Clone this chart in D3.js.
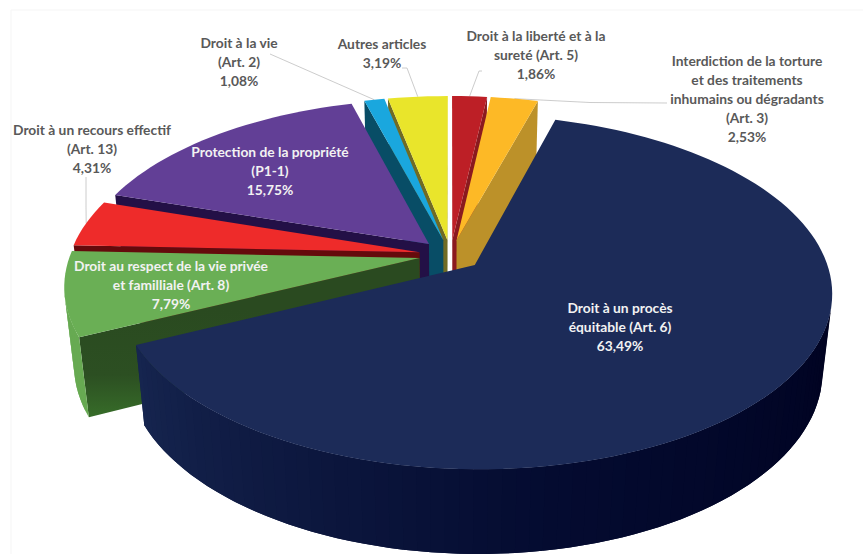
<!DOCTYPE html>
<html lang="fr">
<head>
<meta charset="utf-8">
<script src="https://cdnjs.cloudflare.com/ajax/libs/d3/7.8.5/d3.min.js"></script>
<style>
  html, body { margin: 0; padding: 0; background: #fff; }
  svg { display: block; }
  text { font-family: Lato, "Open Sans", sans-serif; font-weight: 700; font-size: 13.8px; text-anchor: middle; }
</style>
</head>
<body>
<svg id="chart" width="863" height="554"></svg>
<script>
// Articles, clockwise from twelve o'clock
const articleLines = [
  ["Droit à la liberté et à la", "sureté (Art. 5)"],
  ["Interdiction de la torture", "et des traitements", "inhumains ou dégradants", "(Art. 3)"],
  ["Droit à un procès", "équitable (Art. 6)"],
  ["Droit au respect de la vie privée", "et familliale (Art. 8)"],
  ["Droit à un recours effectif", "(Art. 13)"],
  ["Protection de la propriété", "(P1-1)"],
  ["Droit à la vie", "(Art. 2)"],
  ["Autres articles"]
];
const shares = [1.86, 2.53, 63.49, 7.79, 4.31, 15.75, 1.08, 3.19];

const topColors  = ["#bd1f26", "#fdb926", "#1c2b58", "#6aaf55", "#ee2b2a", "#623f96", "#1aa7de", "#e9e52b"];
const sideColors = ["#8b1a1f", "#bc9129", "#15244f", "url(#greenWall)", "#650a0c", "#231046", "#084d66", "#706b24"];
const rimColors  = ["#8b1a1f", "#bc9129", null, "#67aa52", "#650a0c", "#231046", "#084d66", "#706b24"];

// Layout of the labels: centre x and centre y of the first line, text colour
const labelPos = [
  [536, 36, "#595959"], [747, 61, "#595959"], [620, 308, "#f2f2f2"], [171, 266, "#f2f2f2"],
  [92, 130, "#595959"], [270, 152, "#f2f2f2"], [239, 43, "#595959"], [382, 44, "#595959"]
];
// Leader lines: fixed vertices on the label side, the slice rim supplies the last vertex
const leaderStart = [
  [[482, 71], [479, 71]], [[667, 103], [590, 102.5]], null, null,
  [[86, 177], [86, 206]], null, [[270, 54]], [[402, 68], [407, 68]]
];

const svg = d3.select("#chart");
const W = 863, H = 554;

// The green radial wall brightens towards its outer bottom corner
const wallGrad = svg.append("defs").append("linearGradient").attr("id", "greenWall")
  .attr("gradientUnits", "userSpaceOnUse").attr("x1", 0).attr("y1", 310).attr("x2", 0).attr("y2", 418);
wallGrad.selectAll("stop").data([[0, "#2a4a20"], [0.6, "#2c4f22"], [1, "#376d29"]]).join("stop")
  .attr("offset", d => d[0]).attr("stop-color", d => d[1]);

// Faint frame open on its right side
svg.append("path").attr("d", d3.line()([[W, 10], [11, 10], [11, H]]))
  .attr("fill", "none").attr("stroke", "#f5f5f5");

// Camera model of the tilted disc (unit radius)
const cam = { cx: 450.5, cy: 255, sx: 349.5, sy: 170, persp: 0.152, depth: 78.5, recede: 0.025 };
const explode = 0.09;

function project(X, Y, lowered) {
  const w = 1 + cam.persp * Y + (lowered ? cam.recede : 0);
  return [
    cam.cx + cam.sx * X / w,
    cam.cy + (-cam.sy * Y + (lowered ? cam.depth : 0)) / w
  ];
}

const pie = d3.pie().sort(null).value(d => d).startAngle(0).endAngle(2 * Math.PI);
const arcs = pie(shares).map((a, i) => {
  const mid = (a.startAngle + a.endAngle) / 2;
  return { ...a, i, mid, ox: explode * Math.sin(mid), oy: explode * Math.cos(mid) };
});

const rimAt = (a, t) => [a.ox + Math.sin(t), a.oy + Math.cos(t)];

// Outline of a slice: apex, then the rim sampled every 2 degrees
function ring(a) {
  const n = Math.max(2, Math.ceil((a.endAngle - a.startAngle) / (2 * Math.PI / 180)));
  const t = d3.scaleLinear().domain([0, n]).range([a.startAngle, a.endAngle]);
  return [[a.ox, a.oy, null]].concat(d3.range(n + 1).map(k => {
    const p = rimAt(a, t(k));
    return [p[0], p[1], t(k)];
  }));
}

const navyRim = d3.scaleLinear().domain([100, 170, 244]).range(["#000220", "#040b30", "#16254f"]).clamp(true);
const line = d3.line();
const DEG = 180 / Math.PI;

// Leaders sit under the slices, so they stop at the visible rim
const leaders = svg.append("g").attr("fill", "none").attr("stroke", "#bfbfbf").attr("stroke-width", 0.8);
arcs.forEach(a => {
  if (!leaderStart[a.i]) return;
  const end = project(...rimAt(a, a.mid));
  leaders.append("path").attr("d", line(leaderStart[a.i].concat([end])));
});

// Far slices first so the nearer ones overlap them
const ordered = arcs.slice().sort((p, q) => d3.descending(Math.cos(p.mid), Math.cos(q.mid)));
const slices = svg.selectAll("g.slice").data(ordered).join("g").attr("class", "slice");

slices.each(function (a) {
  const g = d3.select(this);
  const pts = ring(a);
  const closed = pts.concat([pts[0]]);
  for (let k = 0; k < closed.length - 1; k++) {
    const p = closed[k], q = closed[k + 1];
    const quad = [project(p[0], p[1]), project(q[0], q[1]), project(q[0], q[1], true), project(p[0], p[1], true)];
    if (d3.polygonArea(quad) <= 0) continue;   // wall turned away from the viewer
    const isRim = p[2] !== null && q[2] !== null;
    const fill = isRim
      ? (rimColors[a.i] || navyRim((p[2] + q[2]) / 2 * DEG))
      : sideColors[a.i];
    // Each rim strip runs on under the next one, which closes the seams between strips
    const r = closed[k + 2];
    const body = isRim && r && r[2] !== null
      ? [quad[0], quad[1], project(r[0], r[1]), project(r[0], r[1], true), quad[2], quad[3]]
      : quad;
    g.append("path").attr("d", line(body) + "Z").attr("fill", fill);
  }
  g.append("path")
    .attr("d", line(pts.map(p => project(p[0], p[1]))) + "Z")
    .attr("fill", topColors[a.i]);
});

// Labels: article name lines, then the share with a decimal comma
const fmt = v => v.toFixed(2).replace(".", ",") + "%";
const labels = svg.selectAll("text.label").data(arcs).join("text").attr("class", "label")
  .attr("fill", a => labelPos[a.i][2]);
labels.each(function (a) {
  const [x, y] = labelPos[a.i];
  const lines = articleLines[a.i].concat([fmt(shares[a.i])]);
  d3.select(this).selectAll("tspan").data(lines).join("tspan")
    .attr("x", x).attr("y", (d, j) => y + 5 + j * 19).text(d => d);
});
</script>
</body>
</html>
